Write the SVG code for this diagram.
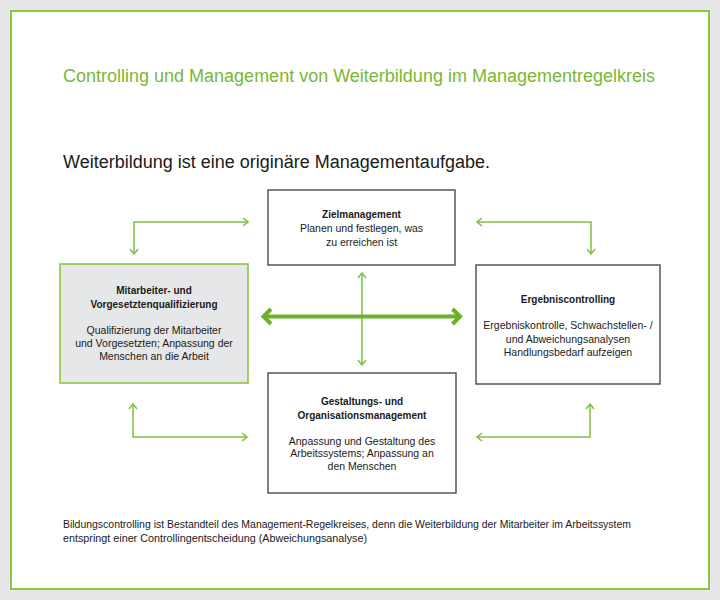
<svg xmlns="http://www.w3.org/2000/svg" width="720" height="600" viewBox="0 0 720 600">
<style>
  .t { font-family: "Liberation Sans", Arial, sans-serif; fill: #1a1a1a; }
  .title { font-size: 18px; fill: #78b833; }
  .sub { font-size: 18px; }
  .h { font-size: 10px; font-weight: bold; text-anchor: middle; }
  .b { font-size: 10.5px; text-anchor: middle; }
  .foot { font-size: 10.5px; }
  .box { fill: #ffffff; stroke: #4a4a4a; stroke-width: 1.4; }
  .gbox { fill: #e6e7e8; stroke: #8dc63f; stroke-width: 1.6; }
  .thin { fill: none; stroke: #7dc242; stroke-width: 1.5; marker-start: url(#ah); marker-end: url(#ah); }
  .thick { fill: none; stroke: #6cb127; stroke-width: 4; marker-start: url(#ahb); marker-end: url(#ahb); }
</style>
<defs>
  <marker id="ah" markerUnits="userSpaceOnUse" viewBox="0 0 10 10" markerWidth="10" markerHeight="10" refX="9" refY="5" orient="auto-start-reverse">
    <path d="M4,1 L9,5 L4,9" fill="none" stroke="#7dc242" stroke-width="1.5"/>
  </marker>
  <marker id="ahb" markerUnits="userSpaceOnUse" viewBox="0 0 20 20" markerWidth="20" markerHeight="20" refX="11" refY="10" orient="auto-start-reverse">
    <path d="M3.5,2.5 L11,10 L3.5,17.5" fill="none" stroke="#6cb127" stroke-width="4"/>
  </marker>
</defs>
<rect x="0" y="0" width="720" height="600" fill="#e6e7e8"/>
<rect x="11" y="11" width="698" height="578" fill="#ffffff" stroke="#8dc63f" stroke-width="2"/>

<text class="t title" x="63" y="81.5">Controlling und Management von Weiterbildung im Managementregelkreis</text>
<text class="t sub" x="63" y="168">Weiterbildung ist eine originäre Managementaufgabe.</text>

<g id="connectors">
  <polyline class="thin" points="134,254 134,222 248,222"/>
  <polyline class="thin" points="477,222 591,222 591,254"/>
  <polyline class="thin" points="133,404 133,437 247,437"/>
  <polyline class="thin" points="477,437 590,437 590,404"/>
  <line class="thin" x1="362" y1="273" x2="362" y2="365"/>
  <line class="thick" x1="263.5" y1="316.5" x2="460" y2="316.5"/>
</g>

<g id="zielmanagement">
  <rect class="box" x="268" y="190" width="187" height="75"/>
  <text class="t h" x="361.5" y="218">Zielmanagement</text>
  <text class="t b" x="361.5" y="232">Planen und festlegen, was</text>
  <text class="t b" x="361.5" y="245.5">zu erreichen ist</text>
</g>

<g id="mitarbeiter">
  <rect class="gbox" x="60" y="264" width="188" height="119"/>
  <text class="t h" x="154" y="294">Mitarbeiter- und</text>
  <text class="t h" x="154" y="308">Vorgesetztenqualifizierung</text>
  <text class="t b" x="154" y="334">Qualifizierung der Mitarbeiter</text>
  <text class="t b" x="154" y="347">und Vorgesetzten; Anpassung der</text>
  <text class="t b" x="154" y="360">Menschen an die Arbeit</text>
</g>

<g id="ergebniscontrolling">
  <rect class="box" x="476" y="265" width="184" height="119"/>
  <text class="t h" x="568" y="303">Ergebniscontrolling</text>
  <text class="t b" x="568" y="329">Ergebniskontrolle, Schwachstellen- /</text>
  <text class="t b" x="568" y="342.5">und Abweichungsanalysen</text>
  <text class="t b" x="568" y="356">Handlungsbedarf aufzeigen</text>
</g>

<g id="gestaltung">
  <rect class="box" x="268" y="373" width="188" height="120"/>
  <text class="t h" x="362" y="405">Gestaltungs- und</text>
  <text class="t h" x="362" y="418.5">Organisationsmanagement</text>
  <text class="t b" x="362" y="444.5">Anpassung und Gestaltung des</text>
  <text class="t b" x="362" y="457">Arbeitssystems; Anpassung an</text>
  <text class="t b" x="362" y="470">den Menschen</text>
</g>

<text class="t foot" x="63" y="528" textLength="568" lengthAdjust="spacingAndGlyphs">Bildungscontrolling ist Bestandteil des Management-Regelkreises, denn die Weiterbildung der Mitarbeiter im Arbeitssystem</text>
<text class="t foot" x="63" y="542" textLength="304" lengthAdjust="spacingAndGlyphs">entspringt einer Controllingentscheidung (Abweichungsanalyse)</text>
</svg>
